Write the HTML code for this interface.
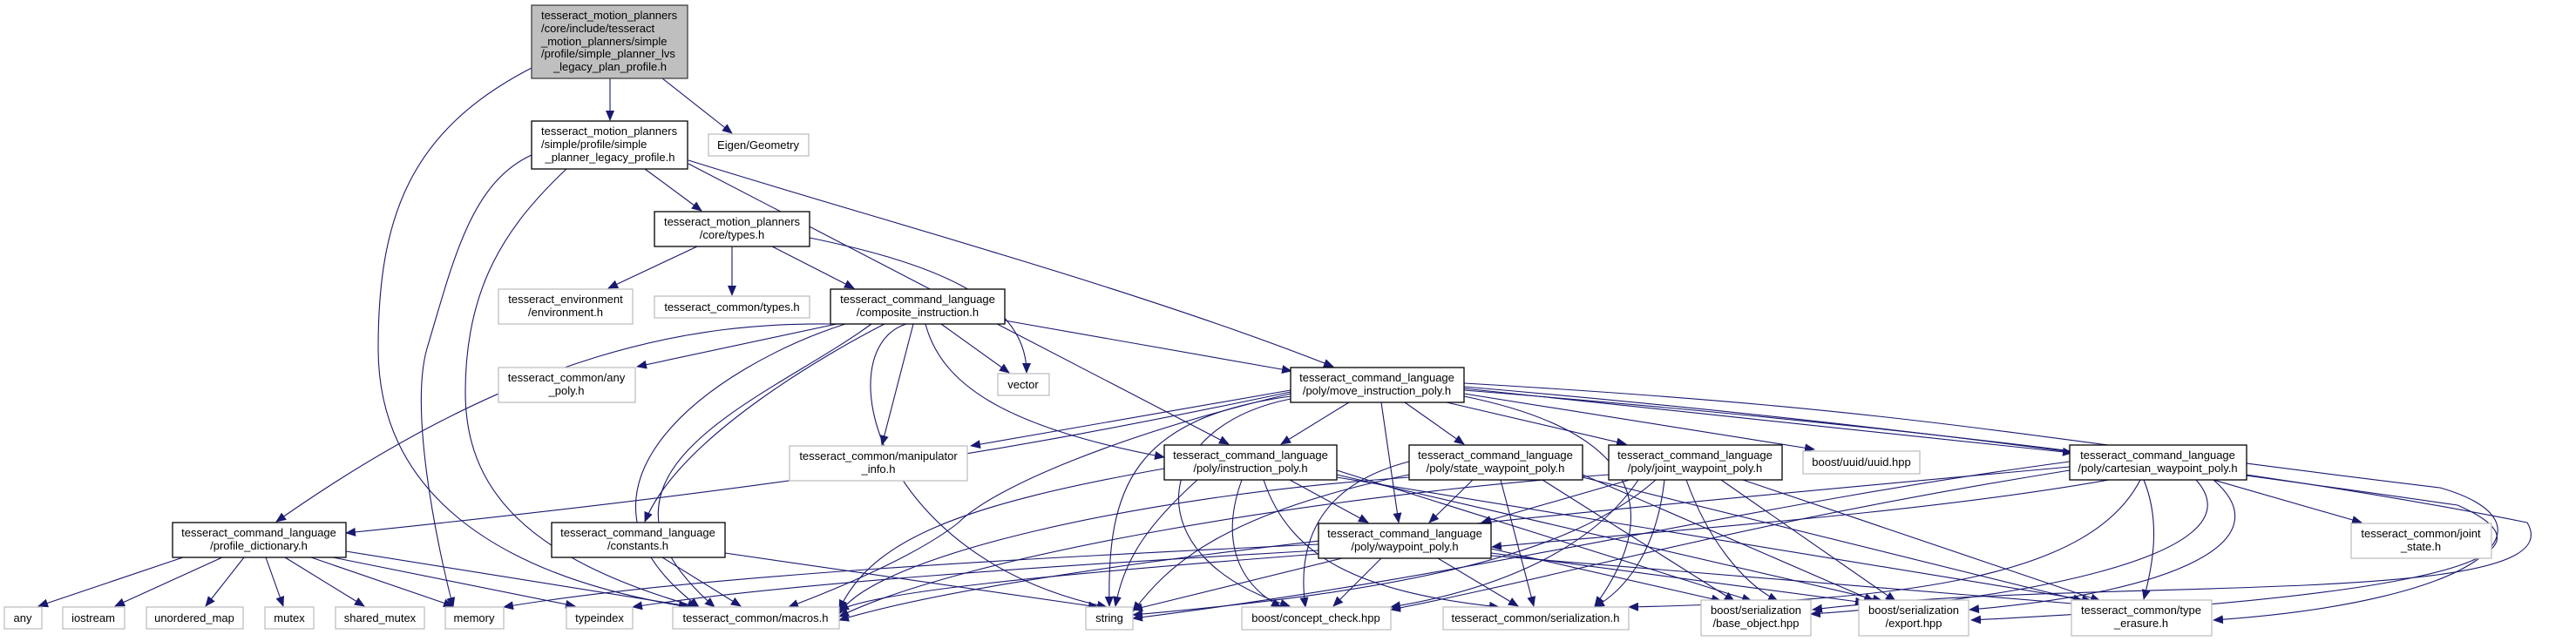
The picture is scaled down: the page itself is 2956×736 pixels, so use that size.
<!DOCTYPE html>
<html><head><meta charset="utf-8"><style>
html,body{margin:0;padding:0;background:#fff;}
svg{display:block;}
text{font-family:"Liberation Sans",Arial,sans-serif;font-size:13px;fill:#000;}
</style></head><body>
<svg width="2956" height="736" viewBox="0 0 2956 736" xmlns="http://www.w3.org/2000/svg">
<defs>
<marker id="a" markerUnits="userSpaceOnUse" markerWidth="12" markerHeight="10" refX="11" refY="5" orient="auto">
<path d="M0,0 L12,5 L0,10 z" fill="#191970"/>
</marker>
</defs>
<g fill="none" stroke="#191970" stroke-width="1.1" marker-end="url(#a)">
<!-- root -->
<path d="M700,90 L700,138"/>
<path d="M760,90 L840,153"/>
<path d="M610,78 C470,150 434,250 434,400 C434,560 560,660 790,697"/>
<!-- legacy -->
<path d="M610,178 C540,210 520,300 490,400 C470,470 500,620 520,697"/>
<path d="M650,194 C580,260 534,330 534,450 C534,560 600,640 800,697"/>
<path d="M740,194 L805,242"/>
<path d="M790,188 L1410,510"/>
<path d="M790,184 C1000,250 1300,330 1530,421"/>
<!-- core types -->
<path d="M800,283 L698,331"/>
<path d="M840,283 L840,339"/>
<path d="M886,283 L980,331"/>
<path d="M929,273 C1060,300 1178,340 1178,428"/>
<!-- composite -->
<path d="M955,372 C800,370 600,400 317,599"/>
<path d="M960,372 L731,421"/>
<path d="M1015,372 C960,400 780,500 740,599"/>
<path d="M970,372 C820,420 620,560 802,697"/>
<path d="M1000,372 C880,460 640,540 820,697"/>
<path d="M1040,372 C950,400 1000,640 1270,697"/>
<path d="M1048,372 L1012,511"/>
<path d="M1080,372 L1158,428"/>
<path d="M1062,372 C1080,440 1150,490 1336,525"/>
<path d="M1153,368 L1482,426"/>
<!-- profile dictionary -->
<path d="M210,640 L44,696"/>
<path d="M255,640 L132,696"/>
<path d="M280,640 L236,696"/>
<path d="M305,640 L325,696"/>
<path d="M327,640 L418,696"/>
<path d="M357,640 L520,696"/>
<path d="M382,640 L660,696"/>
<path d="M397,633 L790,696"/>
<!-- constants -->
<path d="M760,640 L850,696"/>
<path d="M832,635 L1260,697"/>
<!-- move instruction -->
<path d="M1481,448 L1114,512"/>
<path d="M1548,462 L1470,510"/>
<path d="M1612,462 L1680,510"/>
<path d="M1660,462 L1866,510"/>
<path d="M1680,452 L2082,516"/>
<path d="M1680,446 L2378,520"/>
<path d="M1585,462 L1605,600"/>
<path d="M1481,455 C1300,480 1270,560 1273,696"/>
<path d="M1481,458 C1320,490 1300,640 1480,696"/>
<path d="M1481,452 C1280,500 1140,560 1100,600 C1050,640 950,680 905,697"/>
<path d="M1481,450 C1150,520 900,560 397,612"/>
<path d="M1680,440 C2200,470 2300,500 2800,560 C2940,600 2860,690 2540,712"/>
<path d="M1680,444 C2100,480 2400,520 2820,580 C2980,650 2700,690 2262,712"/>
<path d="M1680,448 C2200,490 2600,540 2900,600 C2960,700 2400,660 2080,700"/>
<path d="M1680,455 C1900,500 1900,600 1830,696"/>
<!-- instruction poly -->
<path d="M1480,551 L1570,600"/>
<path d="M1374,551 C1320,600 1290,640 1280,696"/>
<path d="M1425,551 C1400,620 1420,670 1470,697"/>
<path d="M1336,538 C1100,580 1000,620 963,700"/>
<path d="M1450,551 C1480,640 1560,680 1720,697"/>
<path d="M1534,540 L2010,690"/>
<path d="M1534,545 L2160,690"/>
<path d="M1534,548 L2400,690"/>
<!-- state waypoint -->
<path d="M1690,551 L1640,600"/>
<path d="M1617,530 C1500,560 1490,640 1498,697"/>
<path d="M1617,545 C1400,590 1340,650 1300,702"/>
<path d="M1617,548 C1300,570 1000,640 963,705"/>
<path d="M1722,551 L1760,696"/>
<path d="M1770,551 L1990,690"/>
<path d="M1816,545 L2150,690"/>
<path d="M1816,548 L2390,690"/>
<!-- joint waypoint -->
<path d="M1870,551 L1700,600"/>
<path d="M1900,551 C1800,640 1600,680 1300,706"/>
<path d="M1880,551 C1820,640 1700,680 1596,697"/>
<path d="M1846,545 C1500,570 1100,640 963,708"/>
<path d="M1910,551 C1900,640 1860,680 1830,697"/>
<path d="M1935,551 C1960,620 2000,670 2040,690"/>
<path d="M1975,551 L2175,690"/>
<path d="M2000,551 L2410,690"/>
<!-- cartesian -->
<path d="M2420,551 C2200,590 1900,610 1712,628"/>
<path d="M2375,530 C2000,580 1700,660 1300,710"/>
<path d="M2375,540 C2000,600 1800,660 1596,700"/>
<path d="M2375,536 C1900,580 1200,640 963,712"/>
<path d="M2456,551 C2400,660 2200,690 1869,697"/>
<path d="M2520,551 C2600,640 2300,690 2078,705"/>
<path d="M2540,551 C2620,620 2500,680 2260,700"/>
<path d="M2460,551 C2480,600 2470,650 2460,688"/>
<path d="M2540,551 L2710,600"/>
<!-- waypoint poly -->
<path d="M1585,641 L1530,696"/>
<path d="M1540,641 L1300,700"/>
<path d="M1513,625 C1200,640 800,660 578,697"/>
<path d="M1513,632 C1200,650 900,670 726,697"/>
<path d="M1513,636 C1200,660 1000,680 963,701"/>
<path d="M1650,641 L1742,696"/>
<path d="M1711,630 L1975,690"/>
<path d="M1711,635 L2140,692"/>
<path d="M1711,638 L2390,694"/>
</g>
<!-- nodes -->
<g stroke-width="1.3">
<rect x="610" y="6" width="179" height="84" fill="#bfbfbf" stroke="#404040"/>
<rect x="610" y="139" width="179" height="55" fill="#fff" stroke="#000"/>
<rect x="813" y="154" width="115" height="25" fill="#fff" stroke="#bfbfbf"/>
<rect x="751" y="243" width="178" height="40" fill="#fff" stroke="#000"/>
<rect x="572" y="332" width="154" height="40" fill="#fff" stroke="#bfbfbf"/>
<rect x="751" y="340" width="178" height="25" fill="#fff" stroke="#bfbfbf"/>
<rect x="953" y="332" width="200" height="40" fill="#fff" stroke="#000"/>
<rect x="572" y="422" width="157" height="40" fill="#fff" stroke="#bfbfbf"/>
<rect x="1145" y="429" width="59" height="25" fill="#fff" stroke="#bfbfbf"/>
<rect x="1481" y="422" width="199" height="40" fill="#fff" stroke="#000"/>
<rect x="906" y="512" width="204" height="40" fill="#fff" stroke="#bfbfbf"/>
<rect x="1336" y="511" width="198" height="40" fill="#fff" stroke="#000"/>
<rect x="1617" y="511" width="199" height="40" fill="#fff" stroke="#000"/>
<rect x="1846" y="511" width="199" height="40" fill="#fff" stroke="#000"/>
<rect x="2069" y="518" width="134" height="26" fill="#fff" stroke="#bfbfbf"/>
<rect x="2375" y="511" width="203" height="40" fill="#fff" stroke="#000"/>
<rect x="198" y="600" width="199" height="40" fill="#fff" stroke="#000"/>
<rect x="633" y="600" width="199" height="40" fill="#fff" stroke="#000"/>
<rect x="1513" y="601" width="198" height="40" fill="#fff" stroke="#000"/>
<rect x="2698" y="601" width="161" height="40" fill="#fff" stroke="#bfbfbf"/>
<rect x="5" y="697" width="43" height="25" fill="#fff" stroke="#bfbfbf"/>
<rect x="72" y="697" width="71" height="25" fill="#fff" stroke="#bfbfbf"/>
<rect x="168" y="697" width="111" height="25" fill="#fff" stroke="#bfbfbf"/>
<rect x="304" y="697" width="56" height="25" fill="#fff" stroke="#bfbfbf"/>
<rect x="385" y="697" width="102" height="25" fill="#fff" stroke="#bfbfbf"/>
<rect x="511" y="697" width="67" height="25" fill="#fff" stroke="#bfbfbf"/>
<rect x="650" y="697" width="76" height="25" fill="#fff" stroke="#bfbfbf"/>
<rect x="772" y="697" width="191" height="25" fill="#fff" stroke="#bfbfbf"/>
<rect x="1246" y="697" width="54" height="26" fill="#fff" stroke="#bfbfbf"/>
<rect x="1425" y="697" width="171" height="26" fill="#fff" stroke="#bfbfbf"/>
<rect x="1656" y="697" width="213" height="26" fill="#fff" stroke="#bfbfbf"/>
<rect x="1952" y="689" width="126" height="41" fill="#fff" stroke="#bfbfbf"/>
<rect x="2133" y="689" width="126" height="41" fill="#fff" stroke="#bfbfbf"/>
<rect x="2377" y="689" width="161" height="41" fill="#fff" stroke="#bfbfbf"/>
</g>
<g>
<text x="621" y="22">tesseract_motion_planners</text>
<text x="621" y="37">/core/include/tesseract</text>
<text x="621" y="52">_motion_planners/simple</text>
<text x="621" y="66">/profile/simple_planner_lvs</text>
<text x="700" y="81" text-anchor="middle">_legacy_plan_profile.h</text>
<text x="621" y="155">tesseract_motion_planners</text>
<text x="621" y="170">/simple/profile/simple</text>
<text x="700" y="185" text-anchor="middle">_planner_legacy_profile.h</text>
</g>
<g text-anchor="middle">
<text x="870" y="171">Eigen/Geometry</text>
<text x="840" y="259">tesseract_motion_planners</text>
<text x="840" y="274">/core/types.h</text>
<text x="649" y="348">tesseract_environment</text>
<text x="649" y="363">/environment.h</text>
<text x="840" y="357">tesseract_common/types.h</text>
<text x="1053" y="348">tesseract_command_language</text>
<text x="1053" y="363">/composite_instruction.h</text>
<text x="650" y="438">tesseract_common/any</text>
<text x="650" y="453">_poly.h</text>
<text x="1174" y="446">vector</text>
<text x="1580" y="438">tesseract_command_language</text>
<text x="1580" y="453">/poly/move_instruction_poly.h</text>
<text x="1008" y="528">tesseract_common/manipulator</text>
<text x="1008" y="543">_info.h</text>
<text x="1435" y="527">tesseract_command_language</text>
<text x="1435" y="542">/poly/instruction_poly.h</text>
<text x="1716" y="527">tesseract_command_language</text>
<text x="1716" y="542">/poly/state_waypoint_poly.h</text>
<text x="1945" y="527">tesseract_command_language</text>
<text x="1945" y="542">/poly/joint_waypoint_poly.h</text>
<text x="2136" y="535">boost/uuid/uuid.hpp</text>
<text x="2476" y="527">tesseract_command_language</text>
<text x="2476" y="542">/poly/cartesian_waypoint_poly.h</text>
<text x="297" y="616">tesseract_command_language</text>
<text x="297" y="631">/profile_dictionary.h</text>
<text x="732" y="616">tesseract_command_language</text>
<text x="732" y="631">/constants.h</text>
<text x="1612" y="617">tesseract_command_language</text>
<text x="1612" y="632">/poly/waypoint_poly.h</text>
<text x="2778" y="617">tesseract_common/joint</text>
<text x="2778" y="632">_state.h</text>
<text x="26" y="714">any</text>
<text x="107" y="714">iostream</text>
<text x="223" y="714">unordered_map</text>
<text x="332" y="714">mutex</text>
<text x="436" y="714">shared_mutex</text>
<text x="544" y="714">memory</text>
<text x="688" y="714">typeindex</text>
<text x="867" y="714">tesseract_common/macros.h</text>
<text x="1273" y="714">string</text>
<text x="1510" y="714">boost/concept_check.hpp</text>
<text x="1762" y="714">tesseract_common/serialization.h</text>
<text x="2015" y="705">boost/serialization</text>
<text x="2015" y="720">/base_object.hpp</text>
<text x="2196" y="705">boost/serialization</text>
<text x="2196" y="720">/export.hpp</text>
<text x="2457" y="705">tesseract_common/type</text>
<text x="2457" y="720">_erasure.h</text>
</g>
</svg>
</body></html>
